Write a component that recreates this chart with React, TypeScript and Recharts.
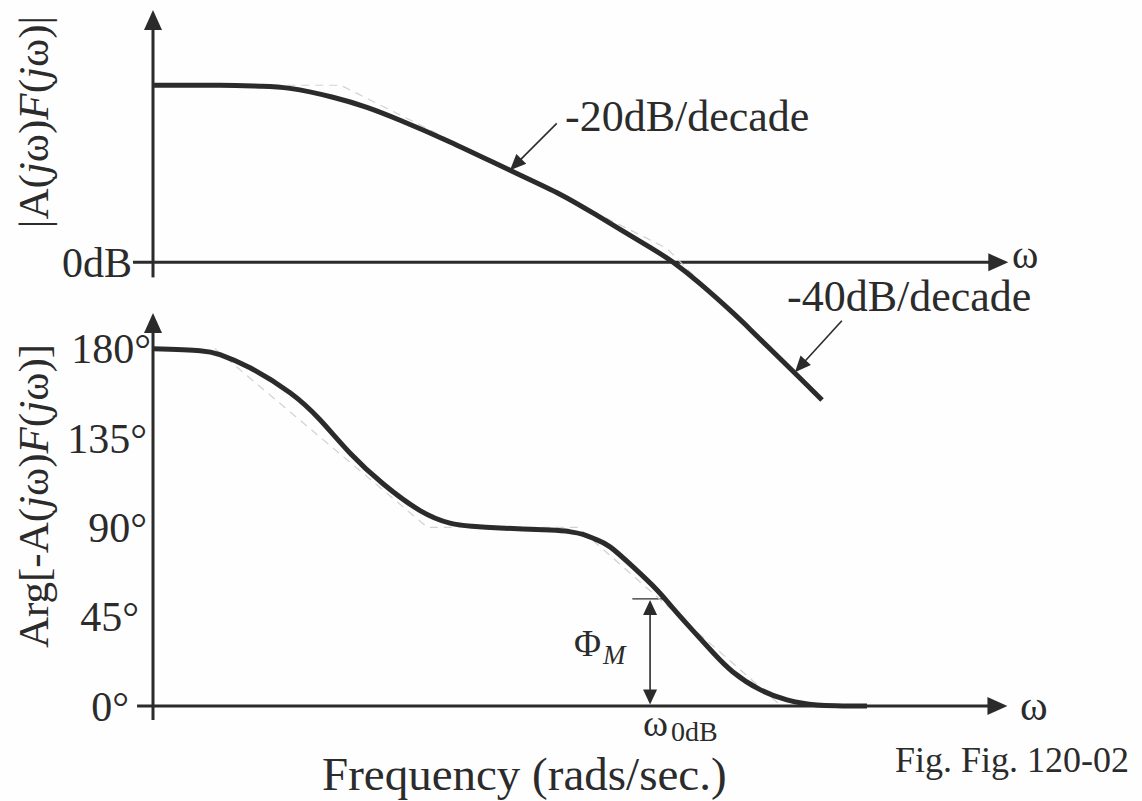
import React from 'react';
import { LineChart, Line, XAxis, YAxis, ReferenceLine } from 'recharts';

const W = 1142;
const H = 801;
const FONT = '"Liberation Serif", "Times New Roman", serif';
const INK = '#2b2b2b';

// frequency positions in decades (log10 ω) from the left edge of the plot
const magFreq = [0, 0.378, 0.604, 0.774, 1.016, 1.208, 1.395, 1.677, 2.016, 2.298, 2.524, 2.807, 2.937, 3.089, 3.275, 3.371, 3.614, 3.778];
const magDb = [40, 40, 39.8, 39.3, 37.3, 35.0, 32.1, 27.2, 20.8, 15.4, 10.2, 3.4, 0, -4.8, -11.4, -15.1, -24.6, -31.1];

const phaseFreq = [0, 0.265, 0.378, 0.548, 0.774, 0.943, 1.112, 1.299, 1.508, 1.677, 1.8, 1.96, 2.242, 2.35, 2.428, 2.5, 2.581, 2.711, 2.846, 2.937, 3.049, 3.162, 3.275, 3.428, 3.58, 3.75, 4.032];
const phaseDeg = [180, 179, 177, 170.4, 157.8, 144.2, 127.5, 112, 98.5, 92.2, 90.6, 89.7, 88.7, 87.9, 86.5, 84, 80.2, 70.1, 58.5, 49.2, 38, 27, 17.2, 8.3, 3.1, 0.6, 0];

// faint straight-line (asymptotic) approximations behind the curves
const magAsymFreq = [0.6, 1.06, 2.9, 3.35];
const magAsymDb = [40, 40, 3.2, -14.8];
const phaseAsymFreq = [0.35, 1.55, 2.4, 3.55];
const phaseAsymDeg = [180, 90, 90, 0];

const phaseTicks = [0, 45, 90, 135, 180];
const magTicks = [0];
const phaseMargin = 54;
const crossover = 2.807;

const magData = magFreq.map((f, i) => ({ f, db: magDb[i] }));
const magAsym = magAsymFreq.map((f, i) => ({ f, db: magAsymDb[i] }));
const phaseData = phaseFreq.map((f, i) => ({ f, deg: phaseDeg[i] }));
const phaseAsym = phaseAsymFreq.map((f, i) => ({ f, deg: phaseAsymDeg[i] }));

type ArrowOpts = { head: number; half: number; width: number; both?: boolean };

const arrow = (o: ArrowOpts) => (p: any) => {
  const { x1, y1, x2, y2 } = p;
  const dx = x2 - x1;
  const dy = y2 - y1;
  const len = Math.hypot(dx, dy) || 1;
  const ux = dx / len;
  const uy = dy / len;
  const tri = (tx: number, ty: number, sx: number, sy: number) => {
    const bx = tx - sx * o.head;
    const by = ty - sy * o.head;
    return `${tx},${ty} ${bx - sy * o.half},${by + sx * o.half} ${bx + sy * o.half},${by - sx * o.half}`;
  };
  const sx = o.both ? x1 + ux * o.head * 0.8 : x1;
  const sy = o.both ? y1 + uy * o.head * 0.8 : y1;
  return (
    <g>
      <line x1={sx} y1={sy} x2={x2 - ux * o.head * 0.8} y2={y2 - uy * o.head * 0.8} stroke={INK} strokeWidth={o.width} />
      <polygon points={tri(x2, y2, ux, uy)} fill={INK} />
      {o.both && <polygon points={tri(x1, y1, -ux, -uy)} fill={INK} />}
    </g>
  );
};

const axisArrow = arrow({ head: 20, half: 9, width: 3 });
const noteArrow = arrow({ head: 16, half: 7, width: 1.6 });
const marginArrow = arrow({ head: 15, half: 7, width: 1.6, both: true });

const tickText = (label: (v: number) => string, offsets: Record<number, number>, dflt: number) => (props: any) => {
  const { x, y, payload } = props;
  const off = offsets[payload.value] ?? dflt;
  return (
    <text x={x - off} y={y} dy="0.35em" textAnchor="end" fontFamily={FONT} fontSize={42} fill={INK}>
      {label(payload.value)}
    </text>
  );
};

const txt = { fontFamily: FONT, fill: INK } as const;

export default function App() {
  return (
    <div style={{ position: 'fixed', left: 0, top: 0, width: W, height: H, background: '#fefefe', overflow: 'hidden' }}>
      <div style={{ position: 'absolute', left: 0, top: 0 }}>
        <LineChart width={W} height={H} data={magData} margin={{ top: 10, right: 139, bottom: 397, left: 0 }}>
          <XAxis dataKey="f" type="number" domain={[0, 4.8]} allowDataOverflow hide />
          <YAxis
            type="number"
            domain={[-32, 57]}
            allowDataOverflow
            width={153}
            ticks={magTicks}
            interval={0}
            axisLine={false}
            tickLine={false}
            tickSize={0}
            tickMargin={0}
            tick={tickText(() => '0dB', {}, 21) as any}
          />
          <ReferenceLine segment={[{ x: 0, y: -3.4 }, { x: 0, y: 57 }]} ifOverflow="visible" shape={axisArrow} />
          <ReferenceLine segment={[{ x: -0.113, y: 0 }, { x: 4.83, y: 0 }]} ifOverflow="visible" shape={axisArrow} />
          <ReferenceLine segment={[{ x: 2.28, y: 31.4 }, { x: 2.016, y: 20.8 }]} ifOverflow="visible" shape={noteArrow} />
          <ReferenceLine segment={[{ x: 3.89, y: -13.2 }, { x: 3.625, y: -24.8 }]} ifOverflow="visible" shape={noteArrow} />
          <Line data={magAsym} dataKey="db" type="linear" stroke="#d2d2d2" strokeWidth={1.2} strokeDasharray="8 6" dot={false} isAnimationActive={false} />
          <Line dataKey="db" type="natural" stroke={INK} strokeWidth={5} dot={false} isAnimationActive={false} />
        </LineChart>
      </div>

      <div style={{ position: 'absolute', left: 0, top: 0 }}>
        <LineChart width={W} height={H} data={phaseData} margin={{ top: 313, right: 139, bottom: 79, left: 0 }}>
          <XAxis dataKey="f" type="number" domain={[0, 4.8]} allowDataOverflow hide />
          <YAxis
            type="number"
            domain={[-8, 198]}
            allowDataOverflow
            width={153}
            ticks={phaseTicks}
            interval={0}
            axisLine={false}
            tickLine={false}
            tickSize={0}
            tickMargin={0}
            tick={tickText((v) => `${v}°`, { 0: 24, 45: 14, 180: 2 }, 6) as any}
          />
          <ReferenceLine segment={[{ x: 0, y: -7 }, { x: 0, y: 198 }]} ifOverflow="visible" shape={axisArrow} />
          <ReferenceLine segment={[{ x: -0.09, y: 0 }, { x: 4.825, y: 0 }]} ifOverflow="visible" shape={axisArrow} />
          <ReferenceLine segment={[{ x: crossover, y: 0.8 }, { x: crossover, y: phaseMargin - 0.5 }]} ifOverflow="visible" shape={marginArrow} />
          <ReferenceLine segment={[{ x: crossover - 0.1, y: phaseMargin }, { x: crossover + 0.09, y: phaseMargin }]} ifOverflow="visible" stroke={INK} strokeWidth={1.2} />
          <Line data={phaseAsym} dataKey="deg" type="linear" stroke="#d2d2d2" strokeWidth={1.2} strokeDasharray="8 6" dot={false} isAnimationActive={false} />
          <Line dataKey="deg" type="natural" stroke={INK} strokeWidth={5} dot={false} isAnimationActive={false} />
        </LineChart>
      </div>

      <svg width={W} height={H} style={{ position: 'absolute', left: 0, top: 0, pointerEvents: 'none' }}>
        <text {...txt} fontSize={43} textAnchor="middle" dominantBaseline="central" transform="translate(33,122) rotate(-90)">
          |A(<tspan fontStyle="italic">j</tspan>ω)<tspan fontStyle="italic">F</tspan>(<tspan fontStyle="italic">j</tspan>ω)|
        </text>
        <text {...txt} fontSize={43} textAnchor="middle" dominantBaseline="central" transform="translate(33,496) rotate(-90)">
          Arg[-A(<tspan fontStyle="italic">j</tspan>ω)<tspan fontStyle="italic">F</tspan>(<tspan fontStyle="italic">j</tspan>ω)]
        </text>
        <text {...txt} x={565} y={131} fontSize={44}>-20dB/decade</text>
        <text {...txt} x={787} y={311} fontSize={44}>-40dB/decade</text>
        <text {...txt} x={1012} y={268} fontSize={40}>ω</text>
        <text {...txt} x={1020} y={720} fontSize={42}>ω</text>
        <text {...txt} x={574} y={656} fontSize={37}>Φ</text>
        <text {...txt} x={603} y={664} fontSize={27} fontStyle="italic">M</text>
        <text {...txt} x={643} y={736} fontSize={38}>ω</text>
        <text {...txt} x={671} y={741} fontSize={28}>0dB</text>
        <text {...txt} x={322} y={790} fontSize={47}>Frequency (rads/sec.)</text>
        <text {...txt} x={895} y={772} fontSize={36}>Fig. Fig. 120-02</text>
      </svg>
    </div>
  );
}
